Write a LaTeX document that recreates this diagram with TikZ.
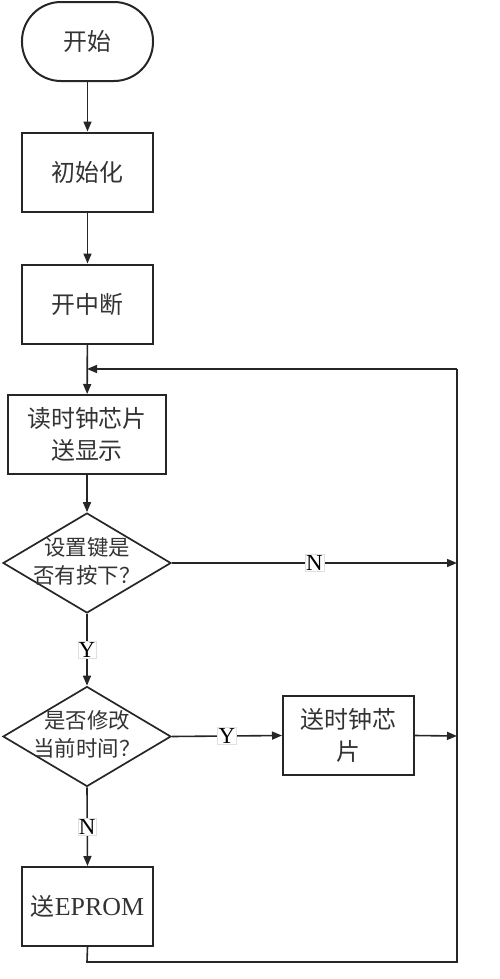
\documentclass[tikz,border=0pt]{standalone}
\usepackage{fontspec}
\setmainfont{Liberation Serif}
\newfontfamily\cjk{Noto Sans CJK SC}
\usetikzlibrary{arrows.meta,shapes.geometric}
\begin{document}
\begin{tikzpicture}[x=1bp,y=-1bp,
  every node/.style={text=black!80},
  box/.style={draw=black!85, line width=2bp, minimum width=131bp, minimum height=79bp, inner sep=0pt, align=center, font=\fontsize{24}{32}\cjk},
  term/.style={box, rounded corners=39bp},
  dia/.style={draw=black!85, line width=1.7bp, shape=diamond, minimum width=168bp, minimum height=100bp, inner sep=0pt},
  dtext/.style={align=center, inner sep=0pt, font=\fontsize{21.5}{28}\cjk},
  lab/.style={fill=white, draw=black!12, line width=0.4bp, inner sep=1bp, text=black, font=\fontsize{23}{23}\selectfont},
  conn/.style={draw=black!85, line width=1.6bp},
  arr/.style={conn, -{Triangle[length=10bp,width=8bp]}}
]
\useasboundingbox (0,0) rectangle (500,979);
\node[term] (start) at (87.5,41.5) {开始};
\node[box] (init) at (87.5,172) {初始化};
\node[box] (int) at (87.5,304) {开中断};
\node[box, minimum width=158bp] (read) at (87,434.5) {读时钟芯片\\送显示};
\node[dia] (d1) at (87,563) {};
\node[dtext] (d1t) at (87,561) {设置键是\\否有按下？};
\node[dia] (d2) at (87,736.5) {};
\node[dtext] (d2t) at (87,734) {是否修改\\当前时间？};
\node[box] (send) at (348.5,735.5) {送时钟芯\\片};
\node[box] (eprom) at (87.5,906.5) {送{\rmfamily\fontsize{26}{26}\selectfont EPROM}};
\coordinate (rtop) at (457,369);
\coordinate (rbot) at (457,962);
\coordinate (lbot) at (87,962);
\coordinate (ltop) at (87,369);
\coordinate (rn) at (457,563);
\coordinate (ry) at (457,736);

\draw[arr] (start) -- (init);
\draw[arr] (init) -- (int);
\draw[arr] (int) -- (read);
\draw[arr] (read) -- (d1);
\draw[arr] (d1.east) -- node[lab]{N} (rn);
\draw[arr] (d1.south) -- node[lab]{Y} (d2.north);
\draw[arr] (d2.east) -- node[lab]{Y} (send.west);
\draw[arr] (d2.south) -- node[lab]{N} (eprom.north);
\draw[arr] (send.east) -- (ry);
\draw[conn] (eprom.south) -- (lbot) -- (rbot) -- (rtop);
\draw[arr] (rtop) -- (ltop);
\end{tikzpicture}
\end{document}
